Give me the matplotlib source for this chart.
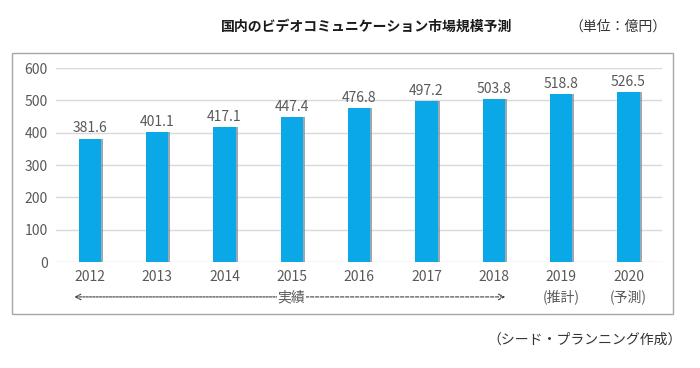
import matplotlib
matplotlib.use("Agg")
import matplotlib.pyplot as plt
from matplotlib.patches import Rectangle

plt.rcParams['font.family'] = ['Noto Sans CJK JP', 'DejaVu Sans']

years = ["2012", "2013", "2014", "2015", "2016", "2017", "2018", "2019", "2020"]
values = [381.6, 401.1, 417.1, 447.4, 476.8, 497.2, 503.8, 518.8, 526.5]
sub_labels = ["", "", "", "", "", "", "", "(推計)", "(予測)"]
yticks = [0, 100, 200, 300, 400, 500, 600]

title = "国内のビデオコミュニケーション市場規模予測"
unit = "（単位：億円）"
footer = "（シード・プランニング作成）"
actual_label = "実績"

bar_color = "#0AA8E6"
text_gray = "#595959"

fig = plt.figure(figsize=(7, 3.68), dpi=100)
fig.patch.set_facecolor("white")

# outer frame
fig.patches.append(Rectangle((0.017, 0.147), 0.944, 0.709, transform=fig.transFigure,
                             fill=False, edgecolor="#A6A6A6", linewidth=1.0))

ax = fig.add_axes([0.08, 0.288, 0.866, 0.527])
x = list(range(len(years)))
# shadow
ax.bar([i + 0.03 for i in x], values, width=0.33, color="#6F8794", alpha=0.7, zorder=2)
ax.bar(x, values, width=0.33, color=bar_color, zorder=3)

for i, v in enumerate(values):
    ax.text(i, v + 10, f"{v:.1f}", ha="center", va="bottom", fontsize=10, color=text_gray)

ax.set_ylim(0, 600)
ax.set_xlim(-0.5, len(years) - 0.5)
ax.set_yticks(yticks)
ax.set_yticklabels([str(t) for t in yticks], fontsize=10, color=text_gray)
ax.set_xticks(x)
ax.set_xticklabels(years, fontsize=10, color=text_gray)
ax.tick_params(axis="both", length=0, pad=6)
ax.yaxis.grid(True, color="#D9D9D9", linewidth=1.0)
ax.set_axisbelow(True)
for s in ax.spines.values():
    s.set_visible(False)

# sub labels
for i, s in enumerate(sub_labels):
    if s:
        ax.text(i, -0.18, s, transform=ax.get_xaxis_transform(), ha="center", va="center",
                fontsize=10, color=text_gray)

# actual arrow
trans = ax.get_xaxis_transform()
y_arr = -0.18
ax.annotate("", xy=(-0.23, y_arr), xytext=(2.85, y_arr), xycoords=trans, textcoords=trans,
            arrowprops=dict(arrowstyle="->", linestyle=(0, (2, 1)), color="#404040", lw=0.8,
                            shrinkA=0, shrinkB=0),
            annotation_clip=False)
ax.annotate("", xy=(6.17, y_arr), xytext=(3.13, y_arr), xycoords=trans, textcoords=trans,
            arrowprops=dict(arrowstyle="->", linestyle=(0, (3, 1.5)), color="#404040", lw=0.8,
                            shrinkA=0, shrinkB=0),
            annotation_clip=False)
ax.text(2.99, y_arr, actual_label, transform=trans, ha="center", va="center",
        fontsize=10, color=text_gray, zorder=5,
        bbox=dict(facecolor="white", edgecolor="none", pad=0.5))

fig.text(367 / 700, 1 - 27 / 368, title, ha="center", va="center", fontsize=10,
         fontweight="bold", color="#1a1a1a")
fig.text(618 / 700, 1 - 27 / 368, unit, ha="center", va="center", fontsize=10, color="#333333")
fig.text(585 / 700, 1 - 340 / 368, footer, ha="center", va="center", fontsize=10, color="#333333")

fig.savefig("out.png", dpi=100, facecolor="white")
